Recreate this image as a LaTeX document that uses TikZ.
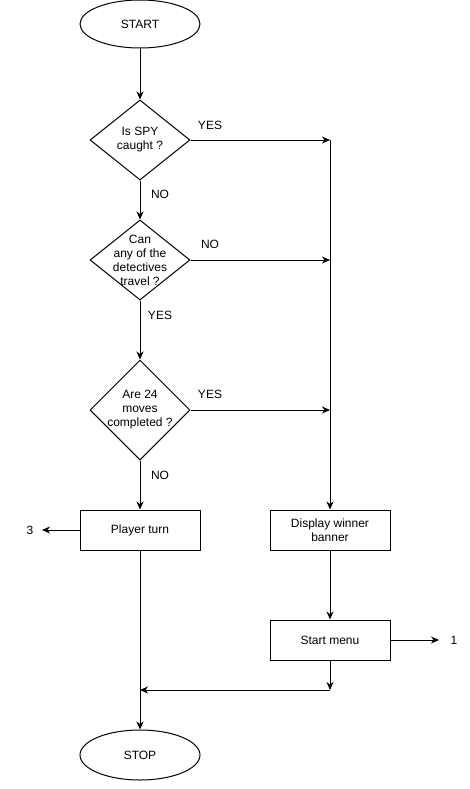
\documentclass[tikz,border=0pt]{standalone}
\usepackage{fontspec}
\setmainfont{Liberation Sans}
\usetikzlibrary{shapes.geometric,arrows.meta}
\begin{document}
\begin{tikzpicture}[x=1pt,y=-1pt,
  every node/.style={font=\fontsize{12}{14}\selectfont, inner sep=0pt},
  term/.style={ellipse, draw, line width=1pt, minimum width=120pt, minimum height=48pt},
  proc/.style={rectangle, draw, line width=1pt, minimum width=120pt, minimum height=40pt, align=center},
  decision/.style={diamond, draw, line width=1pt, minimum width=100pt},
  lbl/.style={align=center},
  arr/.style={line width=1pt, -{Stealth[length=8pt,width=7pt,inset=2.5pt]}},
  ln/.style={line width=1pt}]
\useasboundingbox (0,0) rectangle (470,789);

\node[term] (start) at (140,24) {START};
\node[decision, minimum height=80pt, label={[lbl]center:Is SPY\\caught ?}] (d1) at (140,140) {};
\node[decision, minimum height=80pt, label={[lbl]center:Can\\any of the\\detectives\\travel ?}] (d2) at (140,260) {};
\node[decision, minimum height=100pt, label={[lbl]center:Are 24\\moves\\completed ?}] (d3) at (140,410) {};
\node[proc] (pt) at (140,530) {Player turn};
\node[proc] (dw) at (330,530) {Display winner\\banner};
\node[proc] (sm) at (330,640) {Start menu};
\node[term, minimum height=50pt] (stop) at (140,755) {STOP};

\coordinate (j1) at (330,140);
\coordinate (j2) at (330,260);
\coordinate (j3) at (330,410);
\coordinate (j4) at (330,690);
\coordinate (m) at (140,690);
\coordinate (o3) at (42,530);
\coordinate (o1) at (439,640);

\node (t3) at (30,530) {3};
\node (t1) at (454,640) {1};

\draw[arr] (start) -- (d1);
\draw[arr] (d1) -- (d2);
\draw[arr] (d2) -- (d3);
\draw[arr] (d3) -- (pt);
\draw[arr] (d1.east) -- (j1);
\draw[arr] (d2.east) -- (j2);
\draw[arr] (d3.east) -- (j3);
\draw[arr] (j1) -- (dw);
\draw[arr] (dw) -- (sm);
\draw[arr] (pt) -- (o3);
\draw[arr] (sm) -- (o1);
\draw[arr] (sm) -- (j4);
\draw[arr] (j4) -- (m);
\draw[arr] (pt) -- (stop);

\node (y1) at (210,125) {YES};
\node (n1) at (160,194) {NO};
\node (n2) at (210,244) {NO};
\node (y2) at (160,315) {YES};
\node (y3) at (210,394) {YES};
\node (n3) at (160,475) {NO};
\end{tikzpicture}
\end{document}
